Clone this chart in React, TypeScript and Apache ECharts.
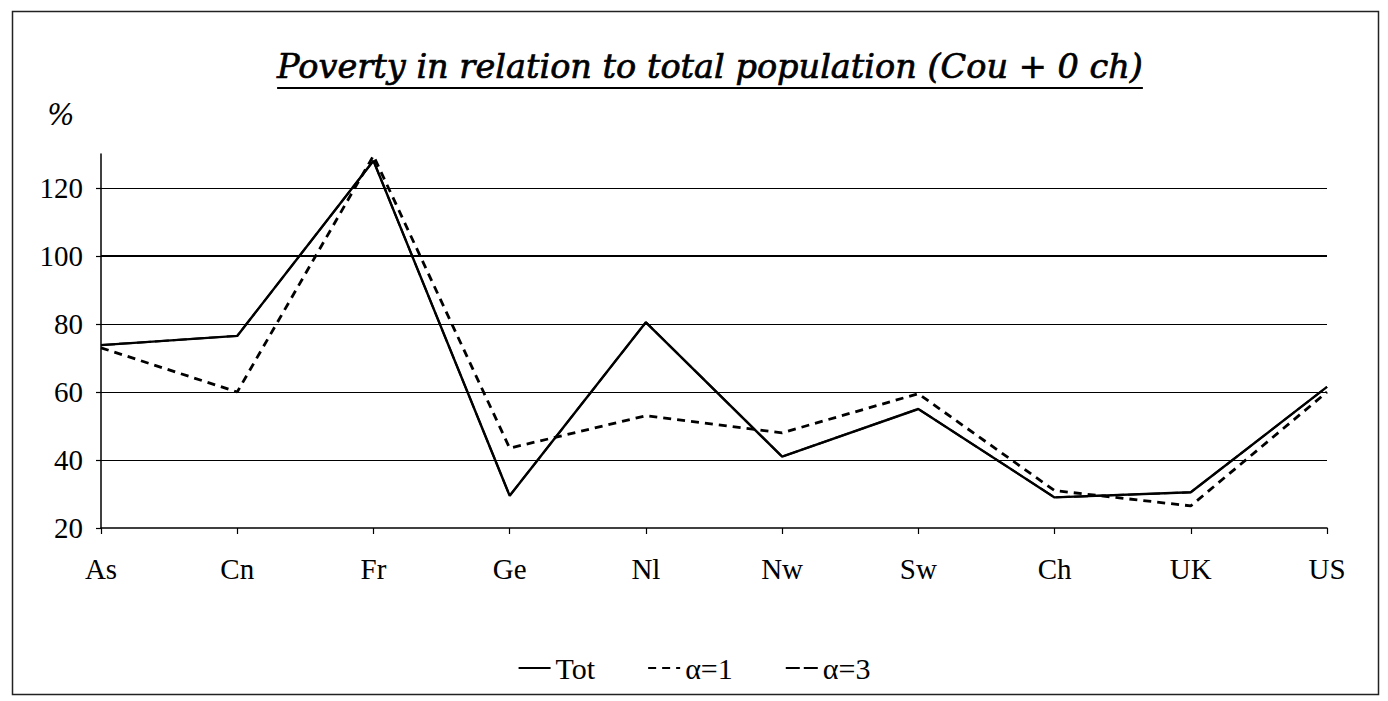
import React, { useEffect, useRef } from "react";
import * as echarts from "echarts";

const categories = ["As", "Cn", "Fr", "Ge", "Nl", "Nw", "Sw", "Ch", "UK", "US"];
const totValues = [73.8, 76.5, 128, 29.5, 80.5, 41, 55, 29, 30.5, 61.5];
const alpha1Values = [73, 60, 129.5, 43.5, 53, 48, 59.5, 31, 26.5, 60];
// α=3 coincides with Tot in the picture (drawn underneath it)
const alpha3Values = [73.8, 76.5, 128, 29.5, 80.5, 41, 55, 29, 30.5, 61.5];
const gridValues = [40, 60, 80, 100, 120];
const titleText = "Poverty in relation to total population (Cou + 0 ch)";

const TITLE_FONT = '"DejaVu Serif", serif';
const TEXT_FONT = '"Liberation Serif", "Times New Roman", serif';

function measure(text: string, font: string): number {
  const c = document.createElement("canvas");
  const ctx = c.getContext("2d");
  if (!ctx) return text.length * 16;
  ctx.font = font;
  return ctx.measureText(text).width;
}

export default function App() {
  const ref = useRef<HTMLDivElement>(null);
  useEffect(() => {
    if (!ref.current) return;
    const chart = echarts.init(ref.current, undefined, { renderer: "svg" });

    const titleLeft = 277;
    const titleRight = 1143;
    const targetW = titleRight - titleLeft;
    const w100 = measure(titleText, `italic 100px ${TITLE_FONT}`);
    const titleSize = Math.max(20, Math.min(40, (targetW / w100) * 100));
    const titleW = measure(titleText, `italic ${titleSize}px ${TITLE_FONT}`);
    const titleCx = (titleLeft + titleRight) / 2;

    chart.setOption({
      animation: false,
      backgroundColor: "#ffffff",
      grid: { left: 101, right: 61, top: 154, bottom: 173, containLabel: false },
      xAxis: {
        type: "category",
        data: categories,
        boundaryGap: false,
        axisLine: { lineStyle: { color: "#000", width: 1.5 } },
        axisTick: { show: true, length: 6, lineStyle: { color: "#000", width: 1.2 } },
        axisLabel: {
          color: "#000",
          fontFamily: TEXT_FONT,
          fontSize: 29,
          margin: 26,
        },
        splitLine: { show: false },
      },
      yAxis: {
        type: "value",
        min: 20,
        max: 130,
        interval: 20,
        axisLine: { show: true, lineStyle: { color: "#000", width: 1.5 } },
        axisTick: { show: true, length: 5, lineStyle: { color: "#000", width: 1.2 } },
        axisLabel: {
          color: "#000",
          fontFamily: TEXT_FONT,
          fontSize: 29,
          margin: 18,
          showMaxLabel: false,
          formatter: (v: number) => (v > 120 ? "" : String(v)),
        },
        splitLine: { show: false },
      },
      legend: {
        top: 648,
        left: "center",
        itemWidth: 32,
        itemHeight: 10,
        itemGap: 52,
        itemStyle: { opacity: 0, borderWidth: 0 },
        textStyle: { color: "#000", fontFamily: TEXT_FONT, fontSize: 30 },
        data: ["Tot", "α=1", "α=3"],
      },
      series: [
        {
          name: "α=3",
          type: "line",
          data: alpha3Values,
          symbol: "none",
          lineStyle: { color: "#000", width: 2, type: [14, 4] },
          itemStyle: { color: "#000" },
          z: 2,
        },
        {
          name: "α=1",
          type: "line",
          data: alpha1Values,
          symbol: "none",
          lineStyle: { color: "#000", width: 2.8, type: [8, 6] },
          itemStyle: { color: "#000" },
          z: 3,
        },
        {
          name: "Tot",
          type: "line",
          data: totValues,
          symbol: "none",
          lineStyle: { color: "#000", width: 2.4, type: "solid" },
          itemStyle: { color: "#000" },
          z: 4,
          markLine: {
            silent: true,
            symbol: ["none", "none"],
            label: { show: false },
            lineStyle: { color: "#000", width: 1, type: "solid" },
            data: gridValues.map((v) => ({
              yAxis: v,
              lineStyle: { color: "#000", width: v === 100 ? 2 : 1, type: "solid" },
            })),
          },
        },
      ],
      graphic: [
        {
          type: "rect",
          shape: { x: 12.5, y: 11.5, width: 1366, height: 683 },
          style: { fill: "none", stroke: "#222", lineWidth: 1.5 },
          silent: true,
        },
        {
          type: "text",
          x: titleCx,
          y: 83,
          style: {
            text: titleText,
            fontFamily: TITLE_FONT,
            fontStyle: "italic",
            fontSize: titleSize,
            fill: "#000",
            stroke: "#000",
            lineWidth: 0.7,
            textAlign: "center",
            textVerticalAlign: "bottom",
          },
        },
        {
          type: "line",
          shape: { x1: titleCx - titleW / 2, y1: 88, x2: titleCx + titleW / 2, y2: 88 },
          style: { stroke: "#000", lineWidth: 2.2 },
        },
        {
          type: "text",
          x: 47,
          y: 100,
          style: {
            text: "%",
            fontFamily: TITLE_FONT,
            fontStyle: "italic",
            fontSize: 29,
            fill: "#000",
            textAlign: "left",
            textVerticalAlign: "top",
          },
        },
      ],
    });
    return () => chart.dispose();
  }, []);
  return (
    <div
      ref={ref}
      style={{ position: "fixed", left: 0, top: 0, width: 1388, height: 701, background: "#fff" }}
    />
  );
}
